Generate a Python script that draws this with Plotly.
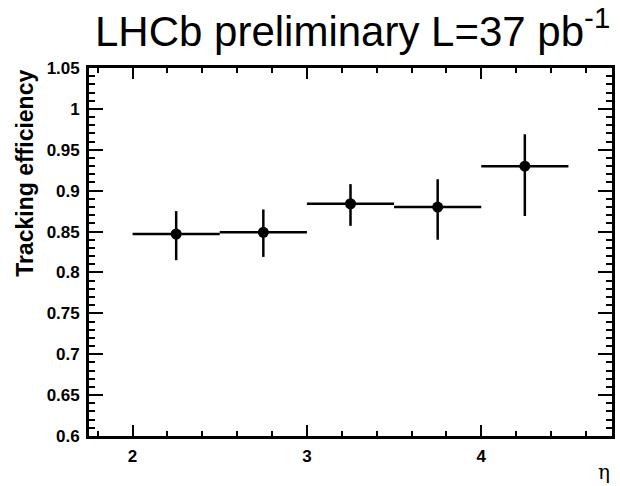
import plotly.graph_objects as go

eta = [2.25, 2.75, 3.25, 3.75, 4.25]
eff = [0.847, 0.849, 0.884, 0.880, 0.930]
err_up = [0.028, 0.028, 0.024, 0.034, 0.039]
err_dn = [0.032, 0.030, 0.027, 0.040, 0.061]
bin_half = [0.25, 0.25, 0.25, 0.25, 0.25]

y_tickvals = [0.6, 0.65, 0.7, 0.75, 0.8, 0.85, 0.9, 0.95, 1.0, 1.05]
y_ticktext = ["0.6", "0.65", "0.7", "0.75", "0.8", "0.85", "0.9", "0.95", "1", "1.05"]
x_tickvals = [2, 3, 4]
x_ticktext = ["2", "3", "4"]

fig = go.Figure()
fig.add_trace(go.Scatter(
    x=eta, y=eff, mode="markers",
    marker=dict(color="black", size=11, symbol="circle"),
    error_x=dict(type="data", array=bin_half, color="black", thickness=2.5, width=0),
    error_y=dict(type="data", symmetric=False, array=err_up, arrayminus=err_dn,
                 color="black", thickness=2.5, width=0),
    showlegend=False,
))

tickfont = dict(family="Liberation Sans, Arial, sans-serif", size=17, color="black", weight="bold")

fig.update_layout(
    width=620, height=486,
    margin=dict(l=89, r=5, t=68, b=50),
    paper_bgcolor="white", plot_bgcolor="white",
    xaxis=dict(
        range=[1.75, 4.75], tickvals=x_tickvals, ticktext=x_ticktext,
        ticks="inside", ticklen=11, tickwidth=2, tickcolor="black",
        minor=dict(dtick=0.2, tick0=2, ticks="inside", ticklen=5, tickwidth=2, tickcolor="black"),
        showline=True, linewidth=2.7, linecolor="black", mirror="allticks",
        showgrid=False, zeroline=False, tickfont=tickfont, ticklabelstandoff=3,
    ),
    yaxis=dict(
        range=[0.6, 1.05], tickvals=y_tickvals, ticktext=y_ticktext,
        ticks="inside", ticklen=14, tickwidth=2, tickcolor="black",
        minor=dict(dtick=0.01, tick0=0.6, ticks="inside", ticklen=6, tickwidth=2, tickcolor="black"),
        showline=True, linewidth=2.7, linecolor="black", mirror="allticks",
        showgrid=False, zeroline=False, tickfont=tickfont, ticklabelstandoff=3,
    ),
    annotations=[
        dict(text="LHCb preliminary L=37 pb<sup>-1</sup>", xref="paper", yref="paper",
             x=1.0, y=1.0, xanchor="right", yanchor="bottom", yshift=11, showarrow=False,
             font=dict(family="Liberation Sans, Arial, sans-serif", size=42, color="black")),
        dict(text="Tracking efficiency", xref="paper", yref="paper",
             x=-0.1236, y=1.0, xanchor="center", yanchor="top", textangle=-90, showarrow=False,
             font=dict(family="Liberation Sans, Arial, sans-serif", size=23, color="black", weight="bold")),
        dict(text="η", xref="paper", yref="paper",
             x=0.985, y=-0.098, xanchor="center", yanchor="middle", showarrow=False,
             font=dict(family="DejaVu Serif, serif", size=20, color="black")),
    ],
)

fig.write_html("out.html")
